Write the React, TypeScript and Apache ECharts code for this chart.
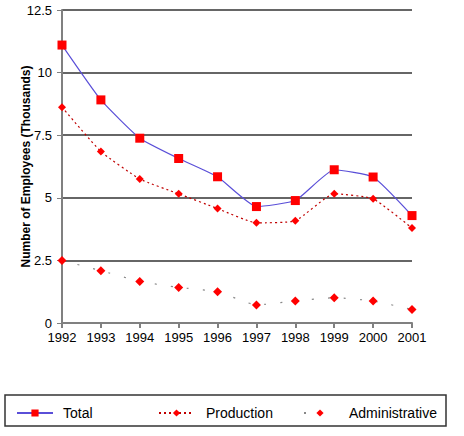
import React, { useEffect, useRef } from "react";
import * as echarts from "echarts";

const years = ["1992", "1993", "1994", "1995", "1996", "1997", "1998", "1999", "2000", "2001"];
const total = [11.1, 8.91, 7.38, 6.57, 5.84, 4.65, 4.89, 6.12, 5.83, 4.29];
const production = [8.62, 6.85, 5.75, 5.16, 4.57, 4.0, 4.08, 5.16, 4.96, 3.79];
const administrative = [2.5, 2.09, 1.66, 1.42, 1.25, 0.72, 0.88, 1.01, 0.88, 0.54];

const FONT = "Liberation Sans, Arial, sans-serif";

export default function App() {
  const ref = useRef<HTMLDivElement>(null);
  useEffect(() => {
    if (!ref.current) return;
    const chart = echarts.init(ref.current, null, { renderer: "svg" });
    const legendText = { fontFamily: FONT, fontSize: 14, color: "#000", padding: [0, 0, 0, 5] };
    chart.setOption({
      animation: false,
      backgroundColor: "#fff",
      textStyle: { fontFamily: FONT },
      grid: { left: 62, right: 52, top: 10, bottom: 113, containLabel: false },
      xAxis: {
        type: "category",
        data: years,
        boundaryGap: false,
        axisLine: { lineStyle: { color: "#808080", width: 2 } },
        axisTick: { length: 5, lineStyle: { color: "#808080", width: 2 } },
        axisLabel: { color: "#000", fontSize: 13, fontFamily: FONT, margin: 8 },
        splitLine: { show: false },
      },
      yAxis: {
        type: "value",
        min: 0,
        max: 12.5,
        interval: 2.5,
        name: "Number of Employees (Thousands)",
        nameLocation: "middle",
        nameGap: 30,
        nameMoveOverlap: false,
        nameTextStyle: { fontFamily: FONT, fontSize: 12, fontWeight: "bold", color: "#000" },
        axisLine: { show: true, lineStyle: { color: "#808080", width: 2 } },
        axisTick: { show: true, length: 5, lineStyle: { color: "#808080" } },
        axisLabel: { color: "#000", fontSize: 13, fontFamily: FONT, margin: 10 },
        splitLine: { show: true, lineStyle: { color: "#333", width: 1.5 } },
      },
      legend: [
        {
          data: ["Total"], left: 16, top: 406, padding: 0, itemWidth: 36, itemHeight: 9,
          textStyle: legendText,
        },
        {
          data: ["Production"], left: 158, top: 406, padding: 0, itemWidth: 35, itemHeight: 9,
          textStyle: { ...legendText, padding: [0, 0, 0, 7] },
        },
        {
          data: ["Administrative"], left: 303, top: 406, padding: 0, itemWidth: 32, itemHeight: 9,
          textStyle: { ...legendText, padding: [0, 0, 0, 8] },
        },
      ],
      graphic: [
        {
          type: "rect",
          x: 5,
          y: 395,
          shape: { x: 0, y: 0, width: 441, height: 31 },
          style: { fill: "none", stroke: "#333", lineWidth: 1.5 },
          z: -1,
        },
      ],
      series: [
        {
          name: "Total",
          type: "line",
          data: total,
          smooth: 0.15,
          symbol: "rect",
          symbolSize: 9,
          itemStyle: { color: "#ff0000" },
          lineStyle: { color: "#5a4fd8", width: 1.2 },
          z: 3,
        },
        {
          name: "Production",
          type: "line",
          data: production,
          smooth: 0.15,
          symbol: "diamond",
          symbolSize: 8,
          itemStyle: { color: "#ff0000" },
          lineStyle: { color: "#c00000", width: 1.2, type: [2, 3] },
          z: 2,
        },
        {
          name: "Administrative",
          type: "line",
          data: administrative,
          smooth: 0.15,
          symbol: "diamond",
          symbolSize: 9,
          itemStyle: { color: "#ff0000" },
          lineStyle: { color: "#888", width: 1.2, type: [2, 14] },
          z: 1,
        },
      ],
    });
    return () => chart.dispose();
  }, []);
  return <div ref={ref} style={{ width: 464, height: 436, position: "absolute", left: 0, top: 0 }} />;
}
